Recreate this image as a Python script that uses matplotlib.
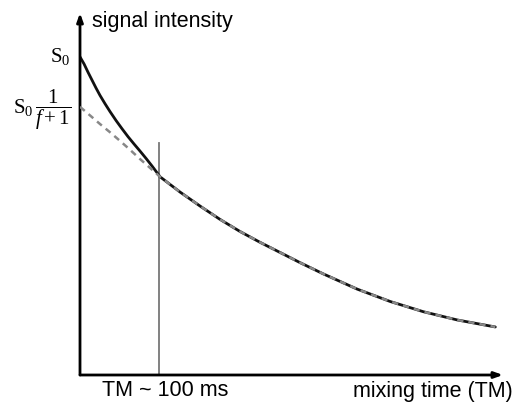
import matplotlib
matplotlib.use("Agg")
import matplotlib.pyplot as plt
from matplotlib.transforms import blended_transform_factory

plt.rcParams['mathtext.fontset'] = 'custom'
plt.rcParams['mathtext.rm'] = 'Liberation Serif'
plt.rcParams['mathtext.it'] = 'Liberation Serif:italic'

# mixing time (ms) and signal (fraction of S0) -- slow component (dashed)
t_long = [0, 12.7, 25.3, 38.0, 50.6, 63.3, 75.9, 88.6, 101.3, 126.6, 151.9, 177.2,
          202.5, 227.8, 253.2, 278.5, 307.6, 350.6, 392.4, 434.2, 477.2, 525.3]
s_long = [0.843, 0.816, 0.789, 0.763, 0.736, 0.708, 0.679, 0.651, 0.623, 0.575,
          0.531, 0.489, 0.451, 0.417, 0.385, 0.353, 0.318, 0.270, 0.231, 0.199,
          0.173, 0.151]
# measured signal at short mixing times (solid, before joining the slow decay)
t_early = [0, 5.1, 10.1, 15.2, 20.3, 25.3, 31.6, 38.0, 45.6, 53.2, 60.8, 68.4,
           75.9, 83.5, 91.1]
s_early = [1.0, 0.978, 0.952, 0.927, 0.902, 0.879, 0.853, 0.828, 0.800, 0.774,
           0.749, 0.726, 0.704, 0.681, 0.657]
tm_mark = 100
tm_line_top = 0.730

t_solid = t_early + t_long[8:]
s_solid = s_early + s_long[8:]

fig = plt.figure(figsize=(5.12, 4.05), dpi=100)
ax = fig.add_axes([80/512, 30/405, 423/512, 362/405])
ax.set_xlim(0, 535)
ax.set_ylim(0, 1.138)
for sp in ax.spines.values():
    sp.set_visible(False)
ax.set_xticks([])
ax.set_yticks([])

ax.plot(t_solid, s_solid, color='#111111', lw=2.0, solid_capstyle='round',
        solid_joinstyle='round', zorder=3)
ax.plot(t_long, s_long, color='#888888', lw=1.8, ls=(0, (2.5, 2.0)), zorder=4)
ax.plot([tm_mark, tm_mark], [0, tm_line_top], color='#777777', lw=1.3, zorder=2)

# axes with arrows
for end in [(0, 1.0), (1.0, 0)]:
    ax.annotate('', xy=end, xytext=(0, 0), xycoords='axes fraction',
                arrowprops=dict(arrowstyle='-|>,head_length=0.5,head_width=0.18',
                                color='black', lw=2.0, shrinkA=0, shrinkB=0),
                annotation_clip=False)

tr = blended_transform_factory(fig.transFigure, ax.transData)
ax.text(70/512, s_early[0], r'$\mathrm{S}_0$', transform=tr, ha='right',
        va='center', fontsize=15)
ax.text(71/512, s_long[0] - 0.01, r'$\mathrm{S}_0\,\dfrac{1}{f+1}$', transform=tr,
        ha='right', va='center', fontsize=15)

fig.text(92/512, 1 - 21/405, 'signal intensity', fontsize=15.5,
         family='Liberation Sans', ha='left', va='center')
fig.text(165/512, 1 - 391/405, 'TM ~ 100 ms', fontsize=15.5,
         family='Liberation Sans', ha='center', va='center')
fig.text(513/512, 1 - 391/405, 'mixing time (TM)', fontsize=15.5,
         family='Liberation Sans', ha='right', va='center')

fig.savefig('out.png', dpi=100)
